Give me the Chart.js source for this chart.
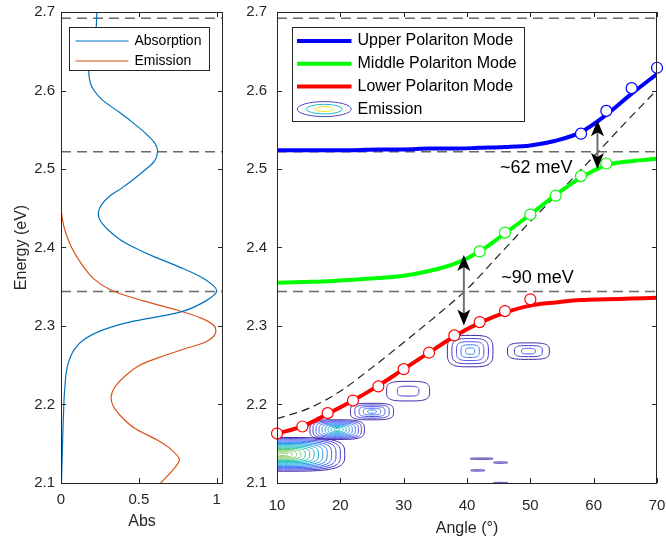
<!DOCTYPE html>
<html>
<head>
<meta charset="utf-8">
<title>Polariton dispersion</title>
<script src="https://cdn.jsdelivr.net/npm/chart.js@4.4.1/dist/chart.umd.min.js"></script>
<style>
  body { margin: 0; background: #fff; }
  #wrap { position: relative; width: 666px; height: 546px; }
  #abs-chart { position: absolute; left: 0; top: 0; }
  #angle-chart { position: absolute; left: 232px; top: 0; }
</style>
</head>
<body>
<div id="wrap">
  <canvas id="abs-chart" width="232" height="546"></canvas>
  <canvas id="angle-chart" width="434" height="546"></canvas>
</div>
<script>
const FONT = "'Liberation Sans', Arial, sans-serif";
Chart.defaults.font.family = FONT;
Chart.defaults.color = '#262626';
Chart.defaults.animation = false;

// exciton levels (eV), dashed across both panels
const excitonLevels = [2.692, 2.522, 2.344];

// absorption and emission spectra (energy on the vertical axis)
const absEnergy = [2.700, 2.680, 2.660, 2.640, 2.625, 2.610, 2.600, 2.588, 2.575, 2.560,
  2.545, 2.532, 2.522, 2.510, 2.498, 2.486, 2.475, 2.465, 2.455, 2.445,
  2.435, 2.423, 2.410, 2.400, 2.388, 2.376, 2.360, 2.345, 2.332, 2.318,
  2.305, 2.295, 2.283, 2.270, 2.255, 2.240, 2.220, 2.200, 2.150, 2.100];
const absValues = [0.230, 0.226, 0.214, 0.190, 0.178, 0.188, 0.212, 0.265, 0.355, 0.455,
  0.545, 0.605, 0.620, 0.600, 0.535, 0.460, 0.385, 0.310, 0.262, 0.240,
  0.250, 0.300, 0.380, 0.470, 0.600, 0.750, 0.920, 1.000, 0.930, 0.770,
  0.440, 0.270, 0.150, 0.085, 0.050, 0.033, 0.024, 0.018, 0.010, 0.003];
const emEnergy = [2.450, 2.435, 2.420, 2.400, 2.380, 2.360, 2.345, 2.332, 2.320, 2.310,
  2.300, 2.290, 2.280, 2.270, 2.260, 2.250, 2.236, 2.222, 2.210, 2.198,
  2.185, 2.170, 2.155, 2.143, 2.130, 2.117, 2.100];
const emValues = [0.000, 0.010, 0.028, 0.068, 0.128, 0.210, 0.330, 0.530, 0.750, 0.900,
  0.985, 0.990, 0.930, 0.780, 0.630, 0.505, 0.410, 0.345, 0.322, 0.335,
  0.385, 0.470, 0.615, 0.705, 0.760, 0.720, 0.640];

// fitted polariton branches vs angle
const curveAngles = [10, 14, 18, 22, 26, 30, 34, 38, 42, 46, 50, 54, 58, 62, 66, 70];
const upperCurve  = [2.524, 2.524, 2.524, 2.524, 2.525, 2.525, 2.526, 2.526, 2.527, 2.528, 2.530, 2.536, 2.547, 2.569, 2.596, 2.621];
const middleCurve = [2.355, 2.356, 2.357, 2.359, 2.361, 2.364, 2.370, 2.379, 2.395, 2.418, 2.442, 2.467, 2.489, 2.505, 2.510, 2.513];
const lowerCurve  = [2.163, 2.172, 2.188, 2.205, 2.224, 2.245, 2.266, 2.287, 2.304, 2.317, 2.326, 2.330, 2.333, 2.334, 2.335, 2.336];

// measured peak positions
const upperAngles  = [58, 62, 66, 70];
const upperPeaks   = [2.545, 2.574, 2.603, 2.629];
const middleAngles = [42, 46, 50, 54, 58, 62];
const middlePeaks  = [2.395, 2.419, 2.442, 2.466, 2.491, 2.507];
const lowerAngles  = [10, 14, 18, 22, 26, 30, 34, 38, 42, 46, 50];
const lowerPeaks   = [2.163, 2.172, 2.189, 2.205, 2.223, 2.245, 2.266, 2.288, 2.305, 2.319, 2.334];

// bare cavity mode
const cavityAngles = [10, 15, 20, 25, 30, 35, 40, 45, 50, 55, 60, 65, 70];
const cavityEnergy = [2.182, 2.195, 2.217, 2.247, 2.279, 2.312, 2.347, 2.390, 2.433, 2.474, 2.516, 2.559, 2.601];

// Rabi splittings: arrow angle, arrow centre, splitting (eV), label position
const splitAngles  = [39.5, 60.6];
const splitCentres = [2.3455, 2.531];
const splitSizes   = [0.090, 0.062];
const splitLabels  = ['~90 meV', '~62 meV'];
const labelAngles  = [45.4, 45.2];
const labelEnergy  = [2.361, 2.5015];

// emission contour islands: centre, half widths, number of levels
const blobAngle  = [11.0, 19.5, 25.0, 30.7, 40.5, 49.7, 42.3, 45.3, 41.7, 45.3];
const blobEnergy = [2.1365, 2.168, 2.191, 2.217, 2.268, 2.268, 2.131, 2.126, 2.116, 2.100];
const blobHalfW  = [9.7, 4.3, 3.4, 3.4, 3.6, 3.3, 1.8, 1.1, 1.1, 1.2];
const blobHalfH  = [0.0215, 0.0125, 0.0105, 0.0125, 0.020, 0.0105, 0.0008, 0.0008, 0.0008, 0.0008];
const blobLevels = [14, 9, 5, 2, 5, 3, 1, 1, 1, 1];
const contourColors = ['rgb(62,38,168)', 'rgb(68,58,210)', 'rgb(70,82,232)', 'rgb(62,106,246)',
  'rgb(46,130,246)', 'rgb(32,150,234)', 'rgb(22,166,218)', 'rgb(12,180,200)', 'rgb(22,190,178)',
  'rgb(50,196,150)', 'rgb(90,200,118)', 'rgb(130,200,90)'];

const pts = (xs, ys) => xs.map((v, i) => ({ x: v, y: ys[i] }));

// box with inward tick marks on all four sides
const matlabAxes = {
  id: 'matlabAxes',
  afterDraw(chart) {
    const { ctx, chartArea: a, scales: { x, y } } = chart;
    ctx.save();
    ctx.strokeStyle = '#262626';
    ctx.lineWidth = 1;
    ctx.beginPath();
    x.ticks.forEach(t => {
      const px = Math.round(x.getPixelForValue(t.value)) + 0.5;
      ctx.moveTo(px, a.bottom); ctx.lineTo(px, a.bottom - 5);
      ctx.moveTo(px, a.top); ctx.lineTo(px, a.top + 5);
    });
    y.ticks.forEach(t => {
      const py = Math.round(y.getPixelForValue(t.value)) + 0.5;
      ctx.moveTo(a.left, py); ctx.lineTo(a.left + 5, py);
      ctx.moveTo(a.right, py); ctx.lineTo(a.right - 5, py);
    });
    ctx.stroke();
    ctx.strokeRect(Math.round(a.left) + 0.5, Math.round(a.top) + 0.5,
      Math.round(a.right - a.left) - 1, Math.round(a.bottom - a.top));
    ctx.restore();
  }
};

// legend box drawn inside the plot area
const insetLegend = {
  id: 'insetLegend',
  afterDraw(chart, args, o) {
    const { ctx, chartArea: a } = chart;
    const x0 = Math.round(a.left + o.left) + 0.5, y0 = Math.round(a.top + o.top) + 0.5;
    ctx.save();
    ctx.fillStyle = '#fff';
    ctx.fillRect(x0, y0, o.width, o.height);
    ctx.strokeStyle = '#262626';
    ctx.lineWidth = 1;
    ctx.strokeRect(x0, y0, o.width, o.height);
    ctx.font = o.fontSize + 'px ' + FONT;
    ctx.textBaseline = 'middle';
    let row = 0;
    chart.data.datasets.filter(d => d.inLegend).forEach(d => {
      const yy = y0 + o.firstRow + row * o.rowGap;
      ctx.strokeStyle = d.borderColor;
      ctx.lineWidth = d.borderWidth;
      ctx.beginPath();
      ctx.moveTo(x0 + o.lineFrom, yy);
      ctx.lineTo(x0 + o.lineTo, yy);
      ctx.stroke();
      ctx.fillStyle = '#000';
      ctx.fillText(d.label, x0 + o.textX, yy);
      row++;
    });
    if (o.contourLabel) {
      const yy = y0 + o.firstRow + row * o.rowGap;
      const cx = x0 + (o.lineFrom + o.lineTo) / 2;
      const rings = [[27, 7.5, 'rgb(80,72,190)'], [18, 4.8, 'rgb(30,190,200)'], [9, 2.5, 'rgb(240,230,30)']];
      ctx.lineWidth = 1;
      rings.forEach(([rx, ry, c]) => {
        ctx.strokeStyle = c;
        ctx.beginPath();
        ctx.ellipse(cx, yy, rx, ry, 0, 0, Math.PI * 2);
        ctx.stroke();
      });
      ctx.fillStyle = '#000';
      ctx.fillText(o.contourLabel, x0 + o.textX, yy);
    }
    ctx.restore();
  }
};

// rounded-box ring used for each contour level
function ringPath(ctx, cx, cy, rx, ry) {
  const p = 0.55;
  ctx.beginPath();
  for (let k = 0; k <= 72; k++) {
    const t = k / 72 * Math.PI * 2;
    const c = Math.cos(t), s = Math.sin(t);
    const px = cx + rx * Math.sign(c) * Math.pow(Math.abs(c), p);
    const py = cy + ry * Math.sign(s) * Math.pow(Math.abs(s), p);
    if (k === 0) ctx.moveTo(px, py); else ctx.lineTo(px, py);
  }
  ctx.closePath();
}

// emission map as nested contour rings
const emissionContours = {
  id: 'emissionContours',
  beforeDatasetsDraw(chart) {
    const { ctx, chartArea: a, scales: { x, y } } = chart;
    ctx.save();
    ctx.beginPath();
    ctx.rect(a.left, a.top, a.right - a.left, a.bottom - a.top);
    ctx.clip();
    ctx.lineWidth = 1;
    blobAngle.forEach((ang, i) => {
      const cx = x.getPixelForValue(ang);
      const cy = y.getPixelForValue(blobEnergy[i]);
      const rx = Math.abs(x.getPixelForValue(ang + blobHalfW[i]) - cx);
      const ry = Math.abs(y.getPixelForValue(blobEnergy[i] + blobHalfH[i]) - cy);
      const n = blobLevels[i];
      for (let k = 0; k < n; k++) {
        const f = 1 - k / n;
        ctx.strokeStyle = contourColors[Math.min(k, contourColors.length - 1)];
        ringPath(ctx, cx, cy, Math.max(rx * f, 1), Math.max(ry * f, 0.6));
        ctx.stroke();
      }
    });
    ctx.restore();
  }
};

// double-headed arrows marking the splittings
function arrowHead(ctx, x, tipY, dir) {
  const len = 16, half = 6.5, notch = 4;
  ctx.beginPath();
  ctx.moveTo(x, tipY);
  ctx.lineTo(x - half, tipY + dir * len);
  ctx.lineTo(x, tipY + dir * (len - notch));
  ctx.lineTo(x + half, tipY + dir * len);
  ctx.closePath();
  ctx.fill();
}

const splitArrows = {
  id: 'splitArrows',
  afterDatasetsDraw(chart) {
    const { ctx, scales: { x, y } } = chart;
    ctx.save();
    splitAngles.forEach((ang, i) => {
      const px = x.getPixelForValue(ang);
      const top = y.getPixelForValue(splitCentres[i] + splitSizes[i] / 2);
      const bot = y.getPixelForValue(splitCentres[i] - splitSizes[i] / 2);
      ctx.strokeStyle = '#707070';
      ctx.lineWidth = 2;
      ctx.beginPath();
      ctx.moveTo(px, top + 10);
      ctx.lineTo(px, bot - 10);
      ctx.stroke();
      ctx.fillStyle = '#000';
      arrowHead(ctx, px, top, 1);
      arrowHead(ctx, px, bot, -1);
    });
    ctx.font = '18px ' + FONT;
    ctx.fillStyle = '#000';
    ctx.textBaseline = 'middle';
    ctx.textAlign = 'left';
    splitLabels.forEach((t, i) => {
      ctx.fillText(t, x.getPixelForValue(labelAngles[i]), y.getPixelForValue(labelEnergy[i]));
    });
    ctx.restore();
  }
};

const levelLines = (x0, x1) => excitonLevels.map(e => ({
  data: [{ x: x0, y: e }, { x: x1, y: e }],
  showLine: true,
  borderColor: '#6a6a6a',
  borderWidth: 1.6,
  borderDash: [10, 6],
  pointRadius: 0
}));

// keep the plot box fixed: no extra room reserved for edge labels
const fixHeight = s => { s.height = 63; s.paddingLeft = 0; s.paddingRight = 0; };
const fixWidth = w => s => { s.width = w; s.paddingTop = 0; s.paddingBottom = 0; };

const energyAxis = (width, pad) => ({
  min: 2.1,
  max: 2.7,
  grid: { display: false, drawTicks: false },
  border: { display: false },
  ticks: { stepSize: 0.1, padding: pad, font: { size: 15 } },
  afterFit: fixWidth(width)
});

// left panel: spectra
const absYAxis = energyAxis(61, 6);
absYAxis.title = { display: true, text: 'Energy (eV)', font: { size: 16 }, padding: { top: 12, bottom: 0 } };

new Chart(document.getElementById('abs-chart'), {
  type: 'scatter',
  data: {
    datasets: [
      {
        label: 'Absorption',
        data: pts(absValues, absEnergy),
        showLine: true,
        borderColor: 'rgb(0,114,189)',
        borderWidth: 1.2,
        tension: 0.3,
        pointRadius: 0,
        inLegend: true
      },
      {
        label: 'Emission',
        data: pts(emValues, emEnergy),
        showLine: true,
        borderColor: 'rgb(217,83,25)',
        borderWidth: 1.2,
        tension: 0.3,
        pointRadius: 0,
        inLegend: true
      },
      ...levelLines(0, 1.04)
    ]
  },
  options: {
    responsive: false,
    layout: { padding: { top: 12, right: 9, left: 0, bottom: 0 } },
    plugins: {
      legend: { display: false },
      tooltip: { enabled: false },
      insetLegend: { left: 8, top: 15, width: 140, height: 43, firstRow: 13.5, rowGap: 20,
        lineFrom: 6, lineTo: 59, textX: 65, fontSize: 14 }
    },
    scales: {
      x: {
        min: 0,
        max: 1.04,
        grid: { display: false, drawTicks: false },
        border: { display: false },
        ticks: { stepSize: 0.5, includeBounds: false, padding: 8, font: { size: 15 }, maxRotation: 0,
          callback: v => String(v) },
        title: { display: true, text: 'Abs', font: { size: 16 }, padding: { top: 0, bottom: 15 } },
        afterFit: fixHeight
      },
      y: absYAxis
    }
  },
  plugins: [matlabAxes, insetLegend]
});

// right panel: dispersion vs angle
const markers = (label, xs, ys, color) => ({
  label: label,
  data: pts(xs, ys),
  pointRadius: 5.5,
  pointBorderWidth: 1.2,
  pointBackgroundColor: '#fff',
  pointBorderColor: color,
  clip: false
});
const branch = (label, ys, color) => ({
  label: label,
  data: pts(curveAngles, ys),
  showLine: true,
  borderColor: color,
  borderWidth: 4,
  cubicInterpolationMode: 'monotone',
  pointRadius: 0,
  inLegend: true
});

new Chart(document.getElementById('angle-chart'), {
  type: 'scatter',
  data: {
    datasets: [
      markers('Upper peaks', upperAngles, upperPeaks, 'rgb(0,0,255)'),
      markers('Middle peaks', middleAngles, middlePeaks, 'rgb(0,255,0)'),
      markers('Lower peaks', lowerAngles, lowerPeaks, 'rgb(255,0,0)'),
      branch('Upper Polariton Mode', upperCurve, 'rgb(0,0,255)'),
      branch('Middle Polariton Mode', middleCurve, 'rgb(0,255,0)'),
      branch('Lower Polariton Mode', lowerCurve, 'rgb(255,0,0)'),
      {
        label: 'Cavity',
        data: pts(cavityAngles, cavityEnergy),
        showLine: true,
        borderColor: '#222',
        borderWidth: 1.2,
        borderDash: [8, 5],
        cubicInterpolationMode: 'monotone',
        pointRadius: 0
      },
      ...levelLines(10, 70)
    ]
  },
  options: {
    responsive: false,
    layout: { padding: { top: 12, right: 9, left: 0, bottom: 0 } },
    plugins: {
      legend: { display: false },
      tooltip: { enabled: false },
      insetLegend: { left: 14.5, top: 15, width: 232, height: 94, firstRow: 13.5, rowGap: 22.7,
        lineFrom: 4.5, lineTo: 59, textX: 65, fontSize: 16, contourLabel: 'Emission' }
    },
    scales: {
      x: {
        min: 10,
        max: 70,
        grid: { display: false, drawTicks: false },
        border: { display: false },
        ticks: { stepSize: 10, padding: 14, font: { size: 15 }, maxRotation: 0 },
        title: { display: true, text: 'Angle (°)', font: { size: 16 }, padding: { top: 0, bottom: 8 } },
        afterFit: fixHeight
      },
      y: energyAxis(45, 10)
    }
  },
  plugins: [emissionContours, splitArrows, matlabAxes, insetLegend]
});
</script>
</body>
</html>
